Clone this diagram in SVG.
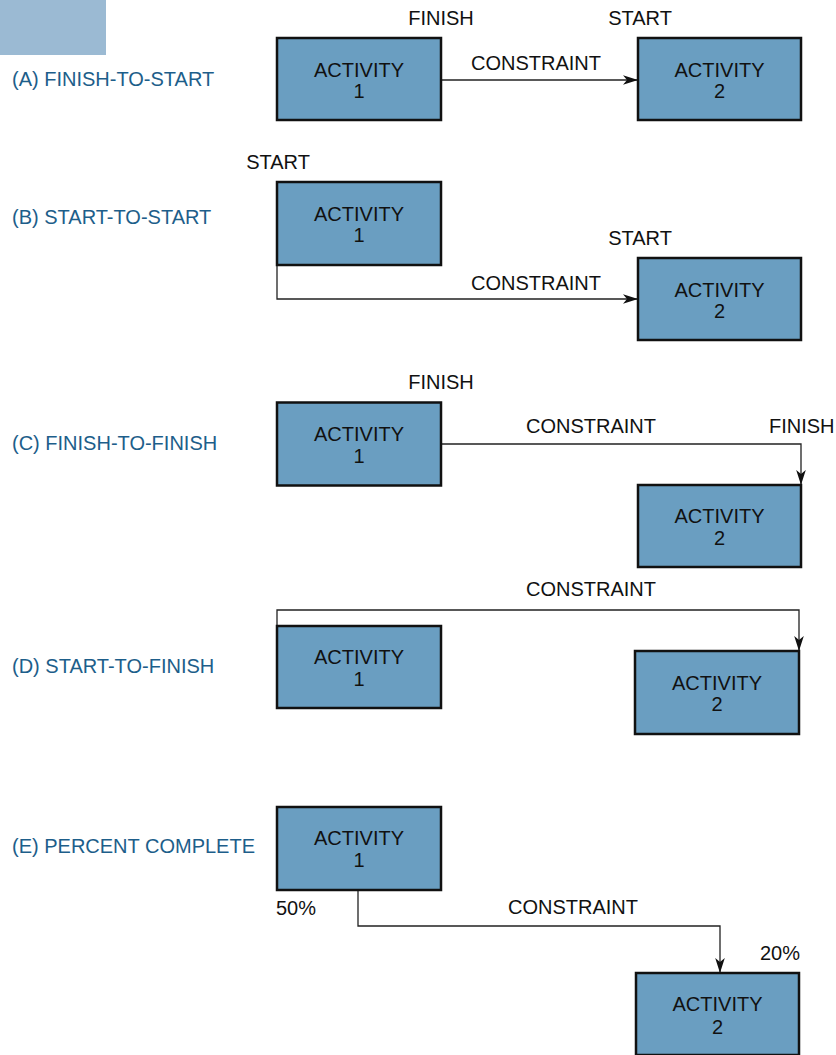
<svg xmlns="http://www.w3.org/2000/svg" width="836" height="1055" viewBox="0 0 836 1055">
<style>
.box{fill:#6a9ec1;stroke:#111;stroke-width:2.5}
.t{font-family:"Liberation Sans",Arial,sans-serif;font-size:20px;fill:#111}
.c{text-anchor:middle}
.lbl{font-family:"Liberation Sans",Arial,sans-serif;font-size:20px;fill:#1d5e8a}
.con{fill:none;stroke:#222;stroke-width:1.3;marker-end:url(#ah)}
</style>
<defs>
<marker id="ah" markerUnits="userSpaceOnUse" viewBox="-16 -6 17 12" refX="0" refY="0" markerWidth="17" markerHeight="12" orient="auto">
<path d="M0,0 L-15,-4.8 L-11,0 L-15,4.8 Z" fill="#111"/>
</marker>
</defs>
<rect x="0" y="0" width="106" height="55" fill="#9bbad3"/>

<g id="labels">
<text class="lbl" x="12" y="86">(A) FINISH-TO-START</text>
<text class="lbl" x="12" y="224">(B) START-TO-START</text>
<text class="lbl" x="12" y="450">(C) FINISH-TO-FINISH</text>
<text class="lbl" x="12" y="673">(D) START-TO-FINISH</text>
<text class="lbl" x="12" y="853">(E) PERCENT COMPLETE</text>
</g>

<g id="connectors">
<path class="con" d="M441,80 H638"/>
<path class="con" d="M277,265 V299 H638"/>
<path class="con" d="M441,444 H801 V485"/>
<path class="con" d="M277,626 V610 H799 V651"/>
<path class="con" d="M358,890 V926 H720 V973"/>
</g>

<g id="connector-labels">
<text class="t c" x="441" y="25">FINISH</text>
<text class="t c" x="640" y="25">START</text>
<text class="t c" x="536" y="70">CONSTRAINT</text>
<text class="t c" x="278" y="169">START</text>
<text class="t c" x="640" y="245">START</text>
<text class="t c" x="536" y="290">CONSTRAINT</text>
<text class="t c" x="441" y="389">FINISH</text>
<text class="t c" x="591" y="433">CONSTRAINT</text>
<text class="t" x="769" y="433">FINISH</text>
<text class="t c" x="591" y="596">CONSTRAINT</text>
<text class="t" x="276" y="915">50%</text>
<text class="t c" x="573" y="914">CONSTRAINT</text>
<text class="t" x="760" y="960">20%</text>
</g>

<g id="a-act1">
<rect class="box" x="277" y="38" width="164" height="82"/>
<text class="t c" x="359" y="77">ACTIVITY</text>
<text class="t c" x="359" y="98">1</text>
</g>
<g id="a-act2">
<rect class="box" x="638" y="38" width="163" height="82"/>
<text class="t c" x="719.5" y="77">ACTIVITY</text>
<text class="t c" x="719.5" y="98">2</text>
</g>

<g id="b-act1">
<rect class="box" x="277" y="182" width="164" height="83"/>
<text class="t c" x="359" y="221">ACTIVITY</text>
<text class="t c" x="359" y="242">1</text>
</g>
<g id="b-act2">
<rect class="box" x="638" y="258" width="163" height="82"/>
<text class="t c" x="719.5" y="297">ACTIVITY</text>
<text class="t c" x="719.5" y="318">2</text>
</g>

<g id="c-act1">
<rect class="box" x="277" y="402.5" width="164" height="83"/>
<text class="t c" x="359" y="441">ACTIVITY</text>
<text class="t c" x="359" y="463">1</text>
</g>
<g id="c-act2">
<rect class="box" x="638" y="485" width="163" height="82"/>
<text class="t c" x="719.5" y="523">ACTIVITY</text>
<text class="t c" x="719.5" y="545">2</text>
</g>

<g id="d-act1">
<rect class="box" x="277" y="626" width="164" height="82"/>
<text class="t c" x="359" y="664">ACTIVITY</text>
<text class="t c" x="359" y="686">1</text>
</g>
<g id="d-act2">
<rect class="box" x="635" y="651" width="164" height="83"/>
<text class="t c" x="717" y="690">ACTIVITY</text>
<text class="t c" x="717" y="711">2</text>
</g>

<g id="e-act1">
<rect class="box" x="277" y="807" width="164" height="83"/>
<text class="t c" x="359" y="845">ACTIVITY</text>
<text class="t c" x="359" y="867">1</text>
</g>
<g id="e-act2">
<rect class="box" x="636" y="973" width="163" height="82"/>
<text class="t c" x="717.5" y="1011">ACTIVITY</text>
<text class="t c" x="717.5" y="1034">2</text>
</g>
</svg>
